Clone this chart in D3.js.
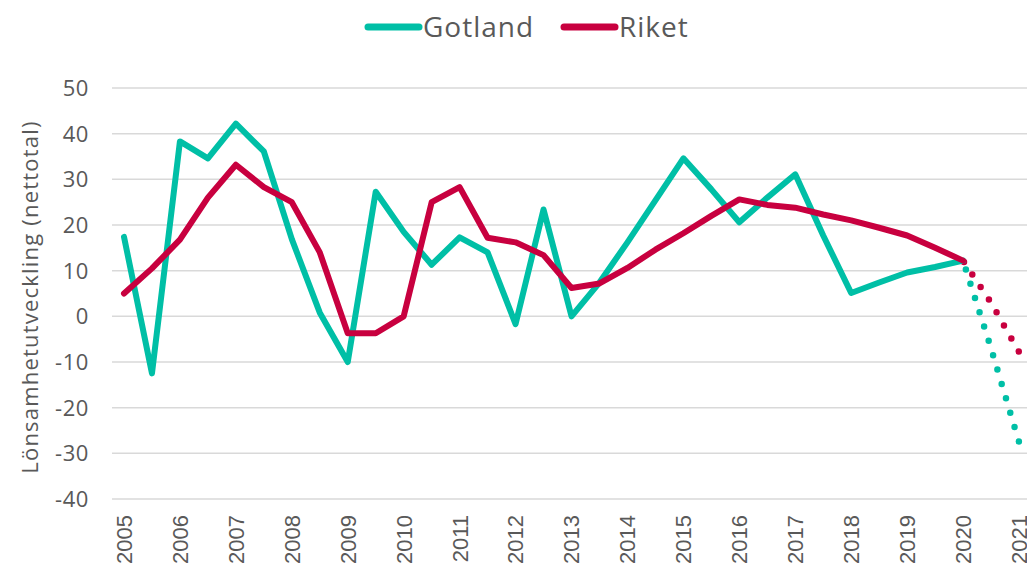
<!DOCTYPE html>
<html>
<head>
<meta charset="utf-8">
<script src="https://cdn.jsdelivr.net/npm/d3@7"></script>
<style>
  body { margin: 0; background: #fff; }
  svg { display: block; }
</style>
</head>
<body>
<div id="chart"></div>
<script>
var width = 1027;
var height = 575;

// half-year periods, 2005 .. 2020
var periods = [2005, 2005.5, 2006, 2006.5, 2007, 2007.5, 2008, 2008.5, 2009, 2009.5,
    2010, 2010.5, 2011, 2011.5, 2012, 2012.5, 2013, 2013.5, 2014, 2014.5,
    2015, 2015.5, 2016, 2016.5, 2017, 2017.5, 2018, 2018.5, 2019, 2019.5, 2020];

var gotland = [17.4, -12.5, 38.3, 34.6, 42.2, 36.1, 16.9, 0.8, -10, 27.3,
    18.5, 11.3, 17.3, 14, -1.7, 23.4, 0, 7.4, 16.2, 25.4,
    34.6, 27.8, 20.6, 26, 31.1, 17.7, 5.1, 7.4, 9.6, 10.8, 12.2];

var riket = [5, 10.5, 16.8, 26, 33.2, 28.3, 25, 14, -3.7, -3.7,
    0, 25, 28.3, 17.2, 16.2, 13.4, 6.2, 7.2, 10.6, 14.6,
    18.2, 22, 25.6, 24.4, 23.8, 22.3, 21, 19.4, 17.7, 15, 12.2];

// forecast (dotted)
var forecastPeriods = [2020, 2020.5, 2021];
var gotlandForecast = [12.2, -7, -27.5];
var riketForecast = [12.2, 3, -7.8];

var yTicks = [50, 40, 30, 20, 10, 0, -10, -20, -30, -40];
var yearTicks = d3.range(2005, 2022);

var teal = '#00BFA6';
var red = '#C8003F';
var grey = '#595959';

var x = d3.scaleLinear().domain([2005, 2021]).range([124, 1019]);
var y = d3.scaleLinear().domain([-40, 50]).range([499, 88]);

var svg = d3.select('#chart').append('svg')
    .attr('width', width)
    .attr('height', height);

// gridlines
svg.append('g')
    .selectAll('line')
    .data(yTicks)
    .enter().append('line')
    .attr('x1', 112)
    .attr('x2', 1027)
    .attr('y1', function (d) { return y(d); })
    .attr('y2', function (d) { return y(d); })
    .attr('stroke', '#d9d9d9')
    .attr('stroke-width', 1.5);

// y labels
svg.append('g')
    .selectAll('text')
    .data(yTicks)
    .enter().append('text')
    .attr('x', 89)
    .attr('y', function (d) { return y(d); })
    .attr('dy', '0.36em')
    .attr('text-anchor', 'end')
    .style('font-family', '"Open Sans", sans-serif')
    .style('font-size', '22px')
    .style('letter-spacing', '0.6px')
    .attr('fill', grey)
    .text(function (d) { return d; });

// y title
svg.append('text')
    .attr('transform', 'translate(30,297) rotate(-90)')
    .attr('text-anchor', 'middle')
    .attr('dy', '0.35em')
    .style('font-family', '"Open Sans", sans-serif')
    .style('font-size', '22px')
    .style('letter-spacing', '1.2px')
    .attr('fill', grey)
    .text('Lönsamhetutveckling (nettotal)');

// x labels
svg.append('g')
    .selectAll('text')
    .data(yearTicks)
    .enter().append('text')
    .attr('transform', function (d) {
        return 'translate(' + x(d) + ',515) rotate(-90)';
    })
    .attr('text-anchor', 'end')
    .attr('dy', '0.36em')
    .style('font-family', '"Liberation Sans", Arial, sans-serif')
    .style('font-size', '22px')
    .attr('fill', grey)
    .text(function (d) { return d; });

var line = d3.line()
    .x(function (d) { return x(d[0]); })
    .y(function (d) { return y(d[1]); });

function drawSeries(px, vals, color, dotted) {
    var p = svg.append('path')
        .datum(d3.zip(px, vals))
        .attr('d', line)
        .attr('fill', 'none')
        .attr('stroke', color)
        .attr('stroke-width', dotted ? 6.5 : 6)
        .attr('stroke-linejoin', 'round')
        .attr('stroke-linecap', 'round');
    if (dotted) {
        // put the last dot just before the end point
        var len = p.node().getTotalLength();
        p.attr('stroke-dasharray', '0,15')
            .attr('stroke-dashoffset', 15 - (len % 15) + 0.5);
    }
}

drawSeries(forecastPeriods, gotlandForecast, teal, true);
drawSeries(forecastPeriods, riketForecast, red, true);
drawSeries(periods, gotland, teal, false);
drawSeries(periods, riket, red, false);

// legend
var legend = [
    { name: 'Gotland', color: teal, x: 368 },
    { name: 'Riket', color: red, x: 564 }
];
var lg = svg.append('g').selectAll('g')
    .data(legend)
    .enter().append('g')
    .attr('transform', function (d) { return 'translate(' + d.x + ',27)'; });
lg.append('line')
    .attr('x1', 0).attr('x2', 51)
    .attr('stroke', function (d) { return d.color; })
    .attr('stroke-width', 7)
    .attr('stroke-linecap', 'round');
lg.append('text')
    .attr('x', 55)
    .attr('dy', '0.35em')
    .style('font-family', '"Open Sans", sans-serif')
    .style('font-size', '28px')
    .style('letter-spacing', '1px')
    .attr('fill', grey)
    .text(function (d) { return d.name; });
</script>
</body>
</html>
